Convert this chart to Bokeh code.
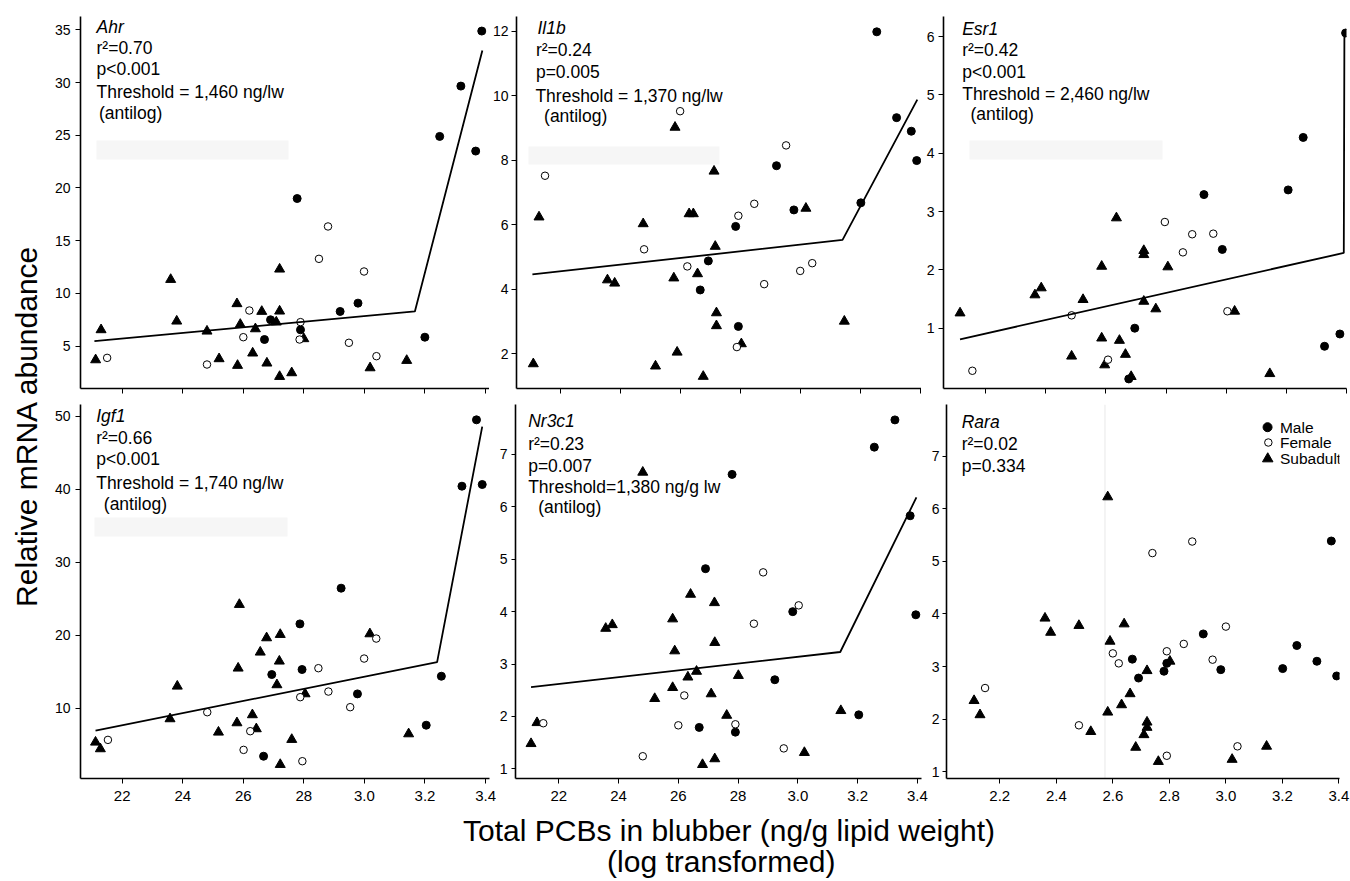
import math
from bokeh.plotting import figure
from bokeh.layouts import row, column
from bokeh.models import Range1d, FixedTicker, Label, BoxAnnotation, Span
from bokeh.embed import file_html
from bokeh.resources import INLINE

FONT = "Liberation Sans"
MID = 0.35  # distance (in em) from the alphabetic baseline up to the text-box middle

# ---------------- data ----------------
x_ticks = [2.2, 2.4, 2.6, 2.8, 3.0, 3.2, 3.4]
x_labels_a = ["22", "24", "26", "28", "3.0", "3.2", "3.4"]
x_labels_b = ["2.2", "2.4", "2.6", "2.8", "3.0", "3.2", "3.4"]

ahr_yticks = [5, 10, 15, 20, 25, 30, 35]
il1b_yticks = [2, 4, 6, 8, 10, 12]
esr1_yticks = [1, 2, 3, 4, 5, 6]
igf1_yticks = [10, 20, 30, 40, 50]
nr3c1_yticks = [1, 2, 3, 4, 5, 6, 7]
rara_yticks = [1, 2, 3, 4, 5, 6, 7]

legend_labels = ["Male", "Female", "Subadult"]

# Ahr
ahr_sub_x = [2.112, 2.130, 2.360, 2.380, 2.480, 2.520, 2.579, 2.581, 2.590, 2.631, 2.640, 2.661, 2.678, 2.709, 2.720, 2.720, 2.720, 2.760, 2.800, 3.019, 3.140]
ahr_sub_y = [3.70, 6.55, 11.32, 7.37, 6.42, 3.80, 9.02, 3.17, 7.06, 4.34, 6.64, 8.29, 3.39, 7.28, 12.30, 8.32, 2.12, 2.47, 5.70, 2.94, 3.64]
ahr_male_x = [2.670, 2.690, 2.778, 2.789, 2.920, 2.979, 3.200, 3.249, 3.319, 3.368, 3.388]
ahr_male_y = [5.63, 7.50, 19.0, 6.55, 8.29, 9.08, 5.85, 24.89, 29.66, 23.50, 34.88]
ahr_fem_x = [2.150, 2.480, 2.600, 2.620, 2.789, 2.786, 2.850, 2.880, 2.949, 2.999, 3.040]
ahr_fem_y = [3.89, 3.26, 5.85, 8.38, 7.28, 5.63, 13.28, 16.35, 5.32, 12.08, 4.05]
ahr_fit_x = [2.108, 3.167, 3.390]
ahr_fit_y = [5.47, 8.29, 33.04]

# Il1b
il1b_sub_x = [2.109, 2.128, 2.356, 2.380, 2.475, 2.516, 2.577, 2.581, 2.588, 2.628, 2.642, 2.656, 2.675, 2.711, 2.715, 2.719, 2.719, 2.802, 3.017, 3.145]
il1b_sub_y = [1.69, 6.24, 4.29, 4.19, 6.03, 1.62, 4.35, 9.02, 2.05, 6.34, 6.34, 4.48, 1.30, 7.66, 5.33, 3.27, 2.87, 2.31, 6.51, 3.01]
il1b_male_x = [2.665, 2.692, 2.783, 2.792, 2.919, 2.977, 3.200, 3.253, 3.319, 3.368, 3.386]
il1b_male_y = [3.98, 4.88, 5.95, 2.85, 7.83, 6.46, 6.68, 11.98, 9.32, 8.90, 7.99]
il1b_fem_x = [2.148, 2.478, 2.598, 2.622, 2.787, 2.792, 2.845, 2.878, 2.951, 2.998, 3.038]
il1b_fem_y = [7.52, 5.24, 9.52, 4.71, 2.21, 6.28, 6.65, 4.16, 8.46, 4.57, 4.81]
il1b_fit_x = [2.106, 3.139, 3.388]
il1b_fit_y = [4.46, 5.53, 9.88]

# Esr1
esr1_sub_x = [2.115, 2.364, 2.385, 2.486, 2.524, 2.586, 2.586, 2.596, 2.635, 2.645, 2.665, 2.684, 2.726, 2.726, 2.726, 2.766, 2.806, 3.028, 3.145]
esr1_sub_y = [1.26, 1.57, 1.69, 0.52, 1.49, 2.06, 0.83, 0.37, 2.89, 0.79, 0.55, 0.17, 2.33, 2.26, 1.46, 1.33, 2.05, 1.29, 0.22]
esr1_male_x = [2.676, 2.696, 2.926, 2.987, 3.206, 3.256, 3.327, 3.378, 3.397]
esr1_male_y = [0.13, 1.00, 3.29, 2.35, 3.37, 4.27, 0.69, 0.90, 6.06]
esr1_fem_x = [2.156, 2.486, 2.607, 2.796, 2.856, 2.887, 2.957, 3.004]
esr1_fem_y = [0.27, 1.22, 0.46, 2.82, 2.30, 2.61, 2.62, 1.29]
esr1_fit_x = [2.115, 3.391, 3.393]
esr1_fit_y = [0.81, 2.29, 6.00]

# Igf1
igf1_sub_x = [2.112, 2.128, 2.358, 2.382, 2.518, 2.579, 2.583, 2.587, 2.630, 2.643, 2.656, 2.677, 2.711, 2.719, 2.722, 2.722, 2.760, 2.804, 3.018, 3.146]
igf1_sub_y = [5.34, 4.43, 8.54, 13.01, 6.71, 7.99, 15.48, 24.20, 9.09, 7.17, 17.67, 19.63, 13.20, 16.44, 20.09, 2.28, 5.71, 11.96, 20.18, 6.48]
igf1_male_x = [2.667, 2.694, 2.787, 2.794, 2.923, 2.977, 3.204, 3.254, 3.322, 3.370, 3.389]
igf1_male_y = [3.42, 14.61, 21.55, 15.30, 26.44, 11.96, 7.67, 14.38, 40.41, 49.50, 40.64]
igf1_fem_x = [2.153, 2.481, 2.601, 2.623, 2.788, 2.795, 2.848, 2.881, 2.953, 2.999, 3.039]
igf1_fem_y = [5.66, 9.45, 4.29, 6.85, 11.51, 2.74, 15.48, 12.28, 10.14, 16.80, 19.54]
igf1_fit_x = [2.112, 3.240, 3.389]
igf1_fit_y = [6.94, 16.30, 48.58]

# Nr3c1
nr3c1_sub_x = [2.107, 2.127, 2.357, 2.379, 2.481, 2.521, 2.581, 2.581, 2.588, 2.632, 2.641, 2.661, 2.681, 2.710, 2.721, 2.722, 2.722, 2.762, 2.801, 3.022, 3.144]
nr3c1_sub_y = [1.48, 1.88, 3.68, 3.75, 6.66, 2.34, 3.86, 2.55, 3.25, 2.75, 4.33, 2.86, 1.08, 2.43, 4.17, 3.41, 1.19, 2.02, 2.78, 1.31, 2.11]
nr3c1_male_x = [2.670, 2.691, 2.780, 2.791, 2.923, 2.983, 3.204, 3.256, 3.325, 3.376, 3.395]
nr3c1_male_y = [1.79, 4.82, 6.62, 1.70, 2.70, 4.00, 2.03, 7.14, 7.66, 5.83, 3.94]
nr3c1_fem_x = [2.148, 2.481, 2.600, 2.620, 2.791, 2.853, 2.884, 2.953, 3.003]
nr3c1_fem_y = [1.87, 1.24, 1.83, 2.40, 1.85, 3.77, 4.75, 1.39, 4.12]
nr3c1_fit_x = [2.107, 3.142, 3.397]
nr3c1_fit_y = [2.56, 3.23, 6.18]

# Rara
rara_sub_x = [2.109, 2.130, 2.360, 2.380, 2.480, 2.522, 2.582, 2.582, 2.590, 2.631, 2.640, 2.661, 2.681, 2.710, 2.721, 2.721, 2.721, 2.761, 2.802, 3.022, 3.144]
rara_sub_y = [2.35, 2.08, 3.92, 3.65, 3.78, 1.76, 6.23, 2.13, 3.48, 2.27, 3.81, 2.48, 1.46, 1.70, 2.92, 1.94, 1.84, 1.19, 3.10, 1.23, 1.48]
rara_male_x = [2.669, 2.691, 2.781, 2.791, 2.920, 2.982, 3.201, 3.251, 3.322, 3.373, 3.392]
rara_male_y = [3.14, 2.78, 2.91, 3.06, 3.62, 2.94, 2.96, 3.40, 3.10, 5.39, 2.82]
rara_fem_x = [2.148, 2.480, 2.600, 2.621, 2.740, 2.791, 2.791, 2.851, 2.881, 2.953, 3.000, 3.041]
rara_fem_y = [2.59, 1.88, 3.25, 3.06, 5.16, 3.29, 1.30, 3.43, 5.38, 3.13, 3.76, 1.48]

# ---------------- layout specs ----------------
# frame = page-pixel box of each plotting frame (used only to place annotations)
specs = {
    "ahr":   dict(frame=(80, 16, 489, 388),   xr=(2.062, 3.4136), yr=(0.985, 36.26), w=443, h=396, bl=34, br=0,  bt=16, bb=8),
    "il1b":  dict(frame=(514, 16, 921, 388),  xr=(2.053, 3.402),  yr=(0.926, 12.455), w=432, h=396, bl=25, br=0, bt=16, bb=8),
    "esr1":  dict(frame=(943, 16, 1346, 388), xr=(2.060, 3.400),  yr=(-0.034, 6.343), w=429, h=396, bl=22, br=4, bt=16, bb=8),
    "igf1":  dict(frame=(80, 404, 489, 778),  xr=(2.0624, 3.413), yr=(0.37, 51.6),   w=450, h=412, bl=34, br=7,  bt=8, bb=30),
    "nr3c1": dict(frame=(514, 404, 921, 778), xr=(2.055, 3.414),  yr=(0.815, 7.954), w=432, h=412, bl=18, br=7,  bt=8, bb=30),
    "rara":  dict(frame=(943, 404, 1339, 778), xr=(2.0115, 3.402), yr=(0.867, 7.99), w=422, h=412, bl=15, br=11, bt=8, bb=30),
}

# (text, left x, baseline y, italic)
texts = {
    "ahr": [("Ahr", 96, 32.3, True), ("r²=0.70", 96, 54, False), ("p<0.001", 96, 75, False),
            ("Threshold = 1,460 ng/lw", 96, 97.7, False), ("(antilog)", 98.5, 118.5, False)],
    "il1b": [("Il1b", 535, 34, True), ("r²=0.24", 533.5, 56, False), ("p=0.005", 533.5, 77.5, False),
             ("Threshold = 1,370 ng/lw", 533, 101.5, False), ("(antilog)", 541.7, 122, False)],
    "esr1": [("Esr1", 961.7, 34.3, True), ("r²=0.42", 961.7, 56, False), ("p<0.001", 961.7, 77.5, False),
             ("Threshold = 2,460 ng/lw", 961.7, 99.3, False), ("(antilog)", 970, 119.5, False)],
    "igf1": [("Igf1", 95.7, 421.7, True), ("r²=0.66", 95.7, 443.3, False), ("p<0.001", 95.7, 465, False),
             ("Threshold = 1,740 ng/lw", 95.7, 488.3, False), ("(antilog)", 103.3, 510, False)],
    "nr3c1": [("Nr3c1", 526.7, 426.7, True), ("r²=0.23", 526.7, 449.5, False), ("p=0.007", 526.7, 471.5, False),
              ("Threshold=1,380 ng/g lw", 526.7, 492.7, False), ("(antilog)", 536.7, 513, False)],
    "rara": [("Rara", 958.3, 427.3, True), ("r²=0.02", 958.3, 450, False), ("p=0.334", 958.3, 471.7, False)],
}

faint_boxes = {
    "ahr": (96, 140, 288, 159),
    "il1b": (526, 146, 718, 164),
    "esr1": (969, 140, 1162, 159),
    "igf1": (94, 517, 287, 536),
}


def to_data(spec, px, py):
    fx0, fy0, fx1, fy1 = spec["frame"]
    (x0, x1), (y0, y1) = spec["xr"], spec["yr"]
    return (x0 + (px - fx0) * (x1 - x0) / (fx1 - fx0),
            y1 - (py - fy0) * (y1 - y0) / (fy1 - fy0))


def build(key, sub, male, fem, fit, yticks, xlabels, show_xlabels, ytick_out=5, ystandoff=5):
    s = specs[key]
    p = figure(width=s["w"], height=s["h"], x_range=Range1d(*s["xr"]), y_range=Range1d(*s["yr"]),
               min_border_left=s["bl"], min_border_right=s["br"], min_border_top=s["bt"],
               min_border_bottom=s["bb"], output_backend="svg", toolbar_location=None, tools="")
    p.grid.visible = False
    p.outline_line_color = None
    p.background_fill_color = "white"
    p.border_fill_color = "white"

    xa = p.xaxis[0]
    xa.ticker = FixedTicker(ticks=x_ticks, minor_ticks=[])
    xa.axis_line_width = 1.6
    xa.axis_line_color = "black"
    xa.major_tick_out = 5
    xa.major_tick_in = 0
    xa.major_tick_line_color = "black"
    xa.major_label_text_font = FONT
    xa.major_label_text_color = "black"
    if show_xlabels:
        xa.major_label_overrides = {t: lab for t, lab in zip(x_ticks, xlabels)}
        xa.major_label_text_font_size = "15px"
        xa.major_label_standoff = 7
    else:
        xa.major_label_overrides = {t: "" for t in x_ticks}
        xa.major_label_text_font_size = "1px"
        xa.major_label_standoff = 0

    ya = p.yaxis[0]
    ya.ticker = FixedTicker(ticks=yticks, minor_ticks=[])
    ya.axis_line_width = 1.6
    ya.axis_line_color = "black"
    ya.major_tick_out = ytick_out
    ya.major_tick_in = 0
    ya.major_tick_line_color = "black"
    ya.major_label_text_font = FONT
    ya.major_label_text_font_size = "14px"
    ya.major_label_text_color = "black"
    ya.major_label_standoff = ystandoff

    if key in faint_boxes:
        bx0, by0, bx1, by1 = faint_boxes[key]
        l, t = to_data(s, bx0, by0)
        r, b = to_data(s, bx1, by1)
        p.add_layout(BoxAnnotation(left=l, right=r, top=t, bottom=b, fill_color="#f6f6f6",
                                   fill_alpha=1, line_alpha=0, level="underlay"))

    p.scatter(sub[0], sub[1], marker="triangle", size=10, fill_color="black", line_color="black")
    p.scatter(male[0], male[1], marker="circle", size=8, fill_color="black", line_color="black")
    p.scatter(fem[0], fem[1], marker="circle", size=7.5, fill_color="white", line_color="black", line_width=1)
    if fit is not None:
        p.line(fit[0], fit[1], line_color="black", line_width=1.8)

    fs = 17.5
    for txt, px, py, ital in texts[key]:
        x, y = to_data(s, px, py - MID * fs)
        p.add_layout(Label(x=x, y=y, text=txt, text_font=FONT, text_font_size=f"{fs}px",
                           text_font_style="italic" if ital else "normal", text_color="black",
                           text_align="left", text_baseline="middle"))
    return p


p1 = build("ahr", (ahr_sub_x, ahr_sub_y), (ahr_male_x, ahr_male_y), (ahr_fem_x, ahr_fem_y),
           (ahr_fit_x, ahr_fit_y), ahr_yticks, x_labels_a, False)
p2 = build("il1b", (il1b_sub_x, il1b_sub_y), (il1b_male_x, il1b_male_y), (il1b_fem_x, il1b_fem_y),
           (il1b_fit_x, il1b_fit_y), il1b_yticks, x_labels_a, False, ytick_out=5, ystandoff=3)
p3 = build("esr1", (esr1_sub_x, esr1_sub_y), (esr1_male_x, esr1_male_y), (esr1_fem_x, esr1_fem_y),
           (esr1_fit_x, esr1_fit_y), esr1_yticks, x_labels_b, False, ytick_out=5, ystandoff=4)
p4 = build("igf1", (igf1_sub_x, igf1_sub_y), (igf1_male_x, igf1_male_y), (igf1_fem_x, igf1_fem_y),
           (igf1_fit_x, igf1_fit_y), igf1_yticks, x_labels_a, True)
p5 = build("nr3c1", (nr3c1_sub_x, nr3c1_sub_y), (nr3c1_male_x, nr3c1_male_y), (nr3c1_fem_x, nr3c1_fem_y),
           (nr3c1_fit_x, nr3c1_fit_y), nr3c1_yticks, x_labels_a, True, ytick_out=4, ystandoff=4)
p6 = build("rara", (rara_sub_x, rara_sub_y), (rara_male_x, rara_male_y), (rara_fem_x, rara_fem_y),
           None, rara_yticks, x_labels_b, True, ytick_out=4, ystandoff=3)

# faint vertical scan line in the Rara panel
vx, _ = to_data(specs["rara"], 1102.7, 500)
p6.add_layout(Span(location=vx, dimension="height", line_color="#e8e8e8", line_width=1, level="underlay"))

# manual legend in the Rara panel
leg_rows = [(1266.5, 426.7, "circle", 9, "black"), (1267.3, 442.0, "circle", 7.5, "white"),
            (1266.7, 458.3, "triangle", 10.5, "black")]
for (mx, my, mk, ms, fc), lab in zip(leg_rows, legend_labels):
    lx, ly = to_data(specs["rara"], mx, my)
    p6.scatter([lx], [ly], marker=mk, size=ms, fill_color=fc, line_color="black", line_width=1)
    tx, ty = to_data(specs["rara"], 1279, my)
    p6.add_layout(Label(x=tx, y=ty, text=lab, text_font=FONT, text_font_size="15.5px", text_color="black",
                        text_align="left", text_baseline="middle"))

# y-axis title strip (baseline at x=36, text rotated to read upward)
yl = figure(width=46, height=808, x_range=Range1d(0, 46), y_range=Range1d(0, 808),
            x_axis_location=None, y_axis_location=None, min_border=0,
            output_backend="svg", toolbar_location=None, tools="")
yl.grid.visible = False
yl.outline_line_color = None
yl.add_layout(Label(x=36 - MID * 30, y=808 - 425.5, text="Relative mRNA abundance", angle=math.pi / 2,
                    text_align="center", text_baseline="middle", text_font=FONT,
                    text_font_size="30px", text_color="black"))

# x-axis title strip (page y 808..881)
xl = figure(width=1350, height=73, x_range=Range1d(0, 1350), y_range=Range1d(0, 73),
            x_axis_location=None, y_axis_location=None, min_border=0,
            output_backend="svg", toolbar_location=None, tools="")
xl.grid.visible = False
xl.outline_line_color = None
xl.add_layout(Label(x=728.5, y=881 - (840.7 - MID * 30), text="Total PCBs in blubber (ng/g lipid weight)",
                    text_align="center", text_baseline="middle", text_font=FONT,
                    text_font_size="30px", text_color="black"))
xl.add_layout(Label(x=720.8, y=881 - (871.5 - MID * 30), text="(log transformed)",
                    text_align="center", text_baseline="middle", text_font=FONT,
                    text_font_size="30px", text_color="black"))

grid = column(row(p1, p2, p3), row(p4, p5, p6))
layout = column(row(yl, grid), xl)

open("out.html", "w").write(file_html(layout, INLINE, title="PCB thresholds"))
